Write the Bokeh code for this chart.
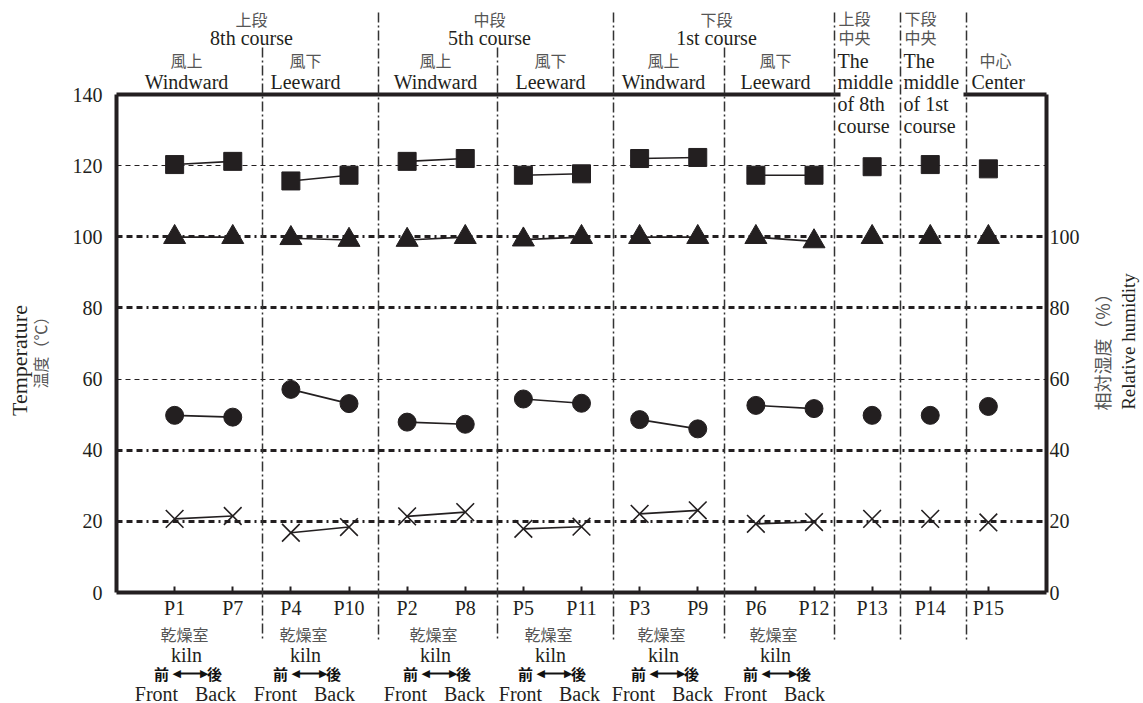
import math
from bokeh.plotting import figure
from bokeh.models import (Range1d, LinearAxis, FixedTicker, Grid, ColumnDataSource)
from bokeh.core.properties import value
from bokeh.embed import file_html
from bokeh.resources import INLINE

# ---------------- data ----------------
points = ["P1", "P7", "P4", "P10", "P2", "P8", "P5", "P11",
          "P3", "P9", "P6", "P12", "P13", "P14", "P15"]
# squares (temperature, left axis)
temp_square = [120.3, 121.2, 115.7, 117.3, 121.2, 122.0, 117.3, 117.7,
               122.0, 122.3, 117.3, 117.3, 119.7, 120.3, 119.1]
# triangles (relative humidity, right axis)
humidity_tri = [99.9, 99.9, 99.6, 99.1, 99.1, 99.9, 99.2, 99.9,
                99.9, 99.9, 99.9, 98.7, 99.9, 99.9, 99.9]
# circles (temperature, left axis)
temp_circle = [49.8, 49.3, 57.1, 53.1, 47.9, 47.3, 54.4, 53.2,
               48.6, 46.0, 52.6, 51.7, 49.8, 49.8, 52.3]
# crosses (temperature, left axis)
temp_cross = [20.7, 21.5, 16.8, 18.4, 21.4, 22.6, 17.9, 18.5,
              22.1, 23.1, 19.3, 19.8, 20.7, 20.7, 19.7]

left_ticks = [0, 20, 40, 60, 80, 100, 120, 140]
right_ticks = [0, 20, 40, 60, 80, 100]
heavy_grid = [20, 40, 80, 100]
light_grid = [60, 120]

course_titles = [("上段", "8th course"), ("中段", "5th course"), ("下段", "1st course")]
side_titles = [("風上", "Windward"), ("風下", "Leeward")] * 3
n_paired = 12  # first 12 points are front/back pairs

# ---------------- geometry ----------------
W, H = 1143, 703
FL, FR, FT, FB = 116, 1046, 94, 592
X0, X1 = 0, 16
Y0, Y1 = 0, 140


def dx(px):
    return X0 + (px - FL) / (FR - FL) * (X1 - X0)


def dy(py):
    return Y0 + (FB - py) / (FB - FT) * (Y1 - Y0)


INK = "#231f20"
GREY = "#555555"
SERIF = "Liberation Serif"
CJK = "Noto Sans CJK JP"

p = figure(width=W, height=H, output_backend="svg", toolbar_location=None,
           x_range=Range1d(X0, X1), y_range=Range1d(Y0, Y1),
           min_border_left=FL, min_border_right=W - FR,
           min_border_top=FT, min_border_bottom=H - FB,
           background_fill_color="white", border_fill_color="white")
p.outline_line_color = None
p.xgrid.visible = False
p.ygrid.visible = False

xs = list(range(1, len(points) + 1))

# axes
p.yaxis.ticker = FixedTicker(ticks=left_ticks)
p.yaxis.axis_line_width = 4
p.yaxis.axis_line_color = INK
p.yaxis.major_tick_in = 0
p.yaxis.major_tick_out = 0
p.yaxis.minor_tick_line_color = None
p.yaxis.major_label_text_font = SERIF
p.yaxis.major_label_text_font_size = "20px"
p.yaxis.major_label_text_color = INK
p.yaxis.major_label_standoff = 14

p.xaxis.ticker = FixedTicker(ticks=xs)
p.xaxis.major_label_overrides = {x: lab for x, lab in zip(xs, points)}
p.xaxis.axis_line_width = 4
p.xaxis.axis_line_color = INK
p.xaxis.major_tick_in = 6
p.xaxis.major_tick_out = 0
p.xaxis.major_tick_line_width = 2
p.xaxis.major_tick_line_color = INK
p.xaxis.minor_tick_line_color = None
p.xaxis.major_label_text_font = SERIF
p.xaxis.major_label_text_font_size = "20px"
p.xaxis.major_label_text_color = INK
p.xaxis.major_label_standoff = 4

raxis = LinearAxis(ticker=FixedTicker(ticks=right_ticks))
raxis.axis_line_width = 4
raxis.axis_line_color = INK
raxis.major_tick_in = 0
raxis.major_tick_out = 0
raxis.minor_tick_line_color = None
raxis.major_label_text_font = SERIF
raxis.major_label_text_font_size = "20px"
raxis.major_label_text_color = INK
raxis.major_label_standoff = 3
p.add_layout(raxis, "right")

# grids
p.add_layout(Grid(dimension=1, ticker=FixedTicker(ticks=heavy_grid),
                  grid_line_color=INK, grid_line_width=3,
                  grid_line_dash="6 4 6 4 6 4 2 4"))
p.add_layout(Grid(dimension=1, ticker=FixedTicker(ticks=light_grid),
                  grid_line_color=INK, grid_line_width=1,
                  grid_line_dash="5 4"))

# top border with gap
p.segment(x0=[dx(FL), dx(963)], y0=[Y1, Y1], x1=[dx(840), dx(FR)], y1=[Y1, Y1],
          line_color=INK, line_width=4, level="overlay")

# separators (extend beyond the frame)
sep_px = [262, 378, 497, 613, 724, 834, 900, 966]
sep_top_px = [47, 12, 47, 12, 47, 12, 12, 12]
p.segment(x0=[dx(v) for v in sep_px], y0=[dy(t) for t in sep_top_px],
          x1=[dx(v) for v in sep_px], y1=[dy(640)] * len(sep_px),
          line_color="#333333", line_width=1.5, line_dash="10 3 2 3",
          level="overlay")

# pair lines
line_xs, line_sq, line_tr, line_ci, line_cr = [], [], [], [], []
for i in range(0, n_paired, 2):
    line_xs.append([xs[i], xs[i + 1]])
    line_sq.append([temp_square[i], temp_square[i + 1]])
    line_tr.append([humidity_tri[i], humidity_tri[i + 1]])
    line_ci.append([temp_circle[i], temp_circle[i + 1]])
    line_cr.append([temp_cross[i], temp_cross[i + 1]])
for ys in (line_sq, line_tr, line_ci, line_cr):
    p.multi_line(xs=line_xs, ys=ys, line_color=INK, line_width=1.6)

src = ColumnDataSource(dict(x=xs, sq=temp_square, tr=humidity_tri,
                            ci=temp_circle, cr=temp_cross))
p.scatter("x", "sq", source=src, marker="square", size=18, color=INK)
p.scatter("x", "tr", source=src, marker="triangle", size=22, color=INK)
p.scatter("x", "ci", source=src, marker="circle", size=18, color=INK)
p.scatter("x", "cr", source=src, marker="x", size=25, line_color=INK,
          line_width=1.6)

# ---------------- texts (drawn as unclipped overlay text glyphs) ----------------
styles = {}


def lab(text, px, py, font=SERIF, size=20, color=INK, align="center",
        bold=False, angle=0.0):
    key = (font, size, color, align, bold, angle)
    d = styles.setdefault(key, dict(x=[], y=[], text=[]))
    d["x"].append(dx(px))
    d["y"].append(dy(py))
    d["text"].append(text)


# top headers
course_px = [251, 489, 716]
for (jp, en), cx in zip(course_titles, course_px):
    lab(jp, cx, 18, font=CJK, size=16, color=GREY)
    lab(en, cx, 37)
group_px = [186, 305, 435, 550, 663, 775]
for (jp, en), cx in zip(side_titles, group_px):
    lab(jp, cx, 59, font=CJK, size=16, color=GREY)
    lab(en, cx, 81)

# middle columns
lab("上段", 838, 17, font=CJK, size=16, color=GREY, align="left")
lab("中央", 838, 36, font=CJK, size=16, color=GREY, align="left")
lab("下段", 904, 17, font=CJK, size=16, color=GREY, align="left")
lab("中央", 904, 36, font=CJK, size=16, color=GREY, align="left")
for txt, py in zip(["The", "middle", "of 8th", "course"], [60, 81, 103, 125]):
    lab(txt, 837, py, align="left")
for txt, py in zip(["The", "middle", "of 1st", "course"], [60, 81, 103, 125]):
    lab(txt, 903, py, align="left")
lab("中心", 995, 59, font=CJK, size=16, color=GREY)
lab("Center", 971, 81, align="left")

# bottom labels
arrow_x0, arrow_x1, arrow_y = [], [], []
for cx in group_px:
    lab("乾燥室", cx - 2, 633, font=CJK, size=16, color=GREY)
    lab("kiln", cx, 654)
    lab("前", cx - 25, 673, font=CJK, size=15, color="#111111", bold=True)
    lab("後", cx + 28, 673, font=CJK, size=15, color="#111111", bold=True)
    lab("Front", cx - 30, 693)
    lab("Back", cx + 29, 693)
    lab("◀", cx - 14, 673, font="DejaVu Sans", size=11, color="#111111", align="left")
    lab("▶", cx + 22, 673, font="DejaVu Sans", size=11, color="#111111", align="right")
    arrow_x0.append(dx(cx - 8))
    arrow_x1.append(dx(cx + 16))
    arrow_y.append(dy(673))

# axis titles
lab("Temperature", 19, 360, size=22, angle=math.pi / 2)
lab("温度（℃）", 39, 348, font=CJK, size=16, color=GREY, angle=math.pi / 2)
lab("相対湿度（％）", 1101, 347, font=CJK, size=18, color=GREY, angle=math.pi / 2)
lab("Relative humidity", 1128, 341, size=19, angle=math.pi / 2)

for (font, size, color, align, bold, angle), d in styles.items():
    p.text(x="x", y="y", text="text", source=ColumnDataSource(d),
           text_font=value(font), text_font_size=value(f"{size}px"),
           text_color=color, text_align=align, text_baseline="middle",
           text_font_style="bold" if bold else "normal", angle=angle,
           level="overlay")

# front/back double arrow shafts
p.segment(x0=arrow_x0, y0=arrow_y, x1=arrow_x1, y1=arrow_y,
          line_color="#111111", line_width=2, level="overlay")

open("out.html", "w").write(file_html(p, INLINE))
